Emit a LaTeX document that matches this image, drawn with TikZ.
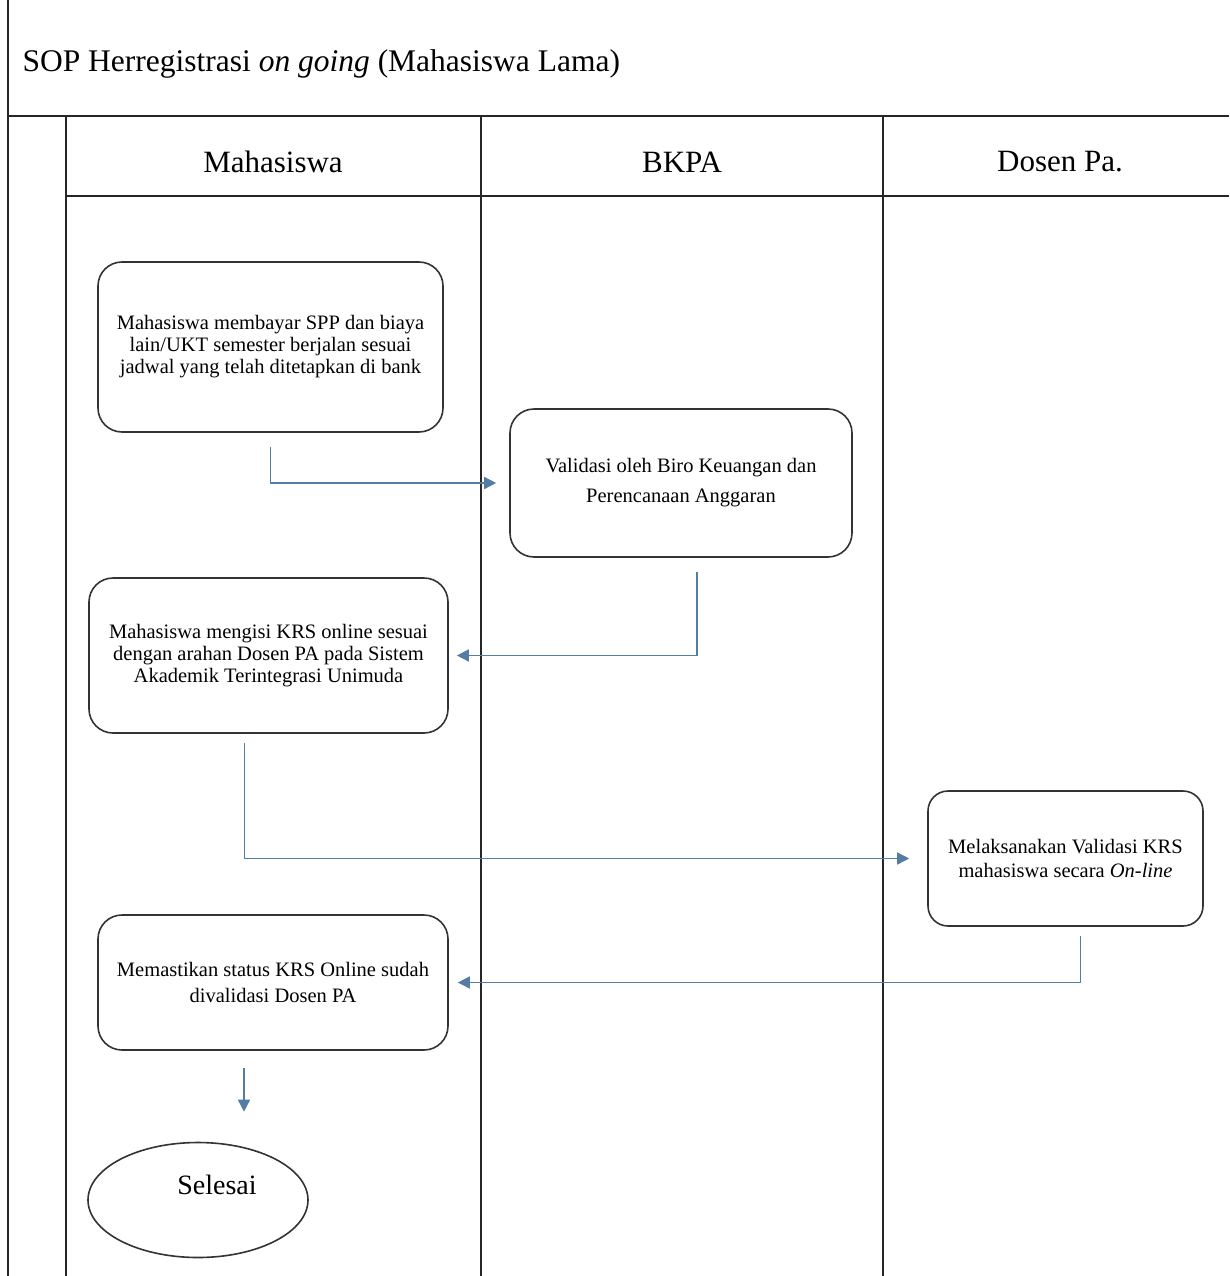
\documentclass[tikz,border=0pt]{standalone}
\usepackage{fontspec}
\setmainfont{Liberation Serif}
\usetikzlibrary{arrows.meta,shapes.geometric}
\definecolor{flowblue}{RGB}{84,125,165}
\begin{document}
\begin{tikzpicture}[x=1pt,y=-1pt]
    \tikzstyle{lane}=[draw=black!85,line width=1.5pt]
    \tikzstyle{stepbox}=[rectangle,rounded corners=24pt,draw=black!80,line width=1.6pt,align=center,inner sep=2pt,font=\fontsize{20.5}{22}\selectfont]
    \tikzstyle{flow}=[draw=flowblue,line width=1.5pt,-{Triangle[length=12pt,width=12pt]}]
    \useasboundingbox (0,0) rectangle (1229,1276);
    % frame
    \draw[lane] (8,0) -- (8,1276);
    \draw[lane] (8,116) -- (1229,116);
    \draw[lane] (66,196) -- (1229,196);
    \foreach \x in {66,481,883} {
        \draw[lane] (\x,116) -- (\x,1276);
    };
    \node[anchor=west,font=\fontsize{31.5}{38}\selectfont] (title) at (19,64) {SOP Herregistrasi \textit{on going} (Mahasiswa Lama)};
    \foreach \x/\name/\txt in {273/mhs/Mahasiswa,682/bkpa/BKPA,1060/dosen/Dosen Pa.} {
        \node[font=\fontsize{31}{36}\selectfont] (\name) at (\x,162) {\txt};
    };

    % steps
    \node[stepbox,minimum width=345pt,minimum height=170pt] (pay) at (270.5,347)
        {Mahasiswa membayar SPP dan biaya\\lain/UKT semester berjalan sesuai\\jadwal yang telah ditetapkan di bank};
    \node[stepbox,minimum width=342pt,minimum height=148pt,font=\fontsize{20.5}{30}\selectfont] (valid) at (681,483)
        {Validasi oleh Biro Keuangan dan\\Perencanaan Anggaran};
    \node[stepbox,minimum width=359pt,minimum height=155pt] (krs) at (268.5,655.5)
        {Mahasiswa mengisi KRS online sesuai\\dengan arahan Dosen PA pada Sistem\\Akademik Terintegrasi Unimuda};
    \node[stepbox,rounded corners=20pt,minimum width=275pt,minimum height=135pt,font=\fontsize{20.5}{24}\selectfont] (online) at (1065.5,858.5)
        {Melaksanakan Validasi KRS\\mahasiswa secara \textit{On-line}};
    \node[stepbox,minimum width=350pt,minimum height=135pt,font=\fontsize{20.5}{26}\selectfont] (check) at (273,982.5)
        {Memastikan status KRS Online sudah\\divalidasi Dosen PA};
    \node[ellipse,draw=black!80,line width=1.6pt,minimum width=220pt,minimum height=115pt,font=\fontsize{28}{34}\selectfont] (selesai) at (198,1200)
        {\hspace*{38pt}\raisebox{30pt}{Selesai}};

    % arrows
    \draw[flow,shorten <=14pt,shorten >=13pt] (pay.south) |- (valid.west);
    \draw[flow,shorten <=14pt,shorten >=8pt] ([xshift=16pt]valid.south) |- (krs.east);
    \draw[flow,shorten <=9pt,shorten >=18pt] ([xshift=-24pt]krs.south) |- (online.west);
    \draw[flow,shorten <=9pt,shorten >=9pt] ([xshift=15pt]online.south) |- (check.east);
    \draw[flow,shorten <=17pt,shorten >=30pt] ([xshift=-29pt]check.south) -- ([xshift=-29pt]check.south |- selesai.north);
\end{tikzpicture}
\end{document}
